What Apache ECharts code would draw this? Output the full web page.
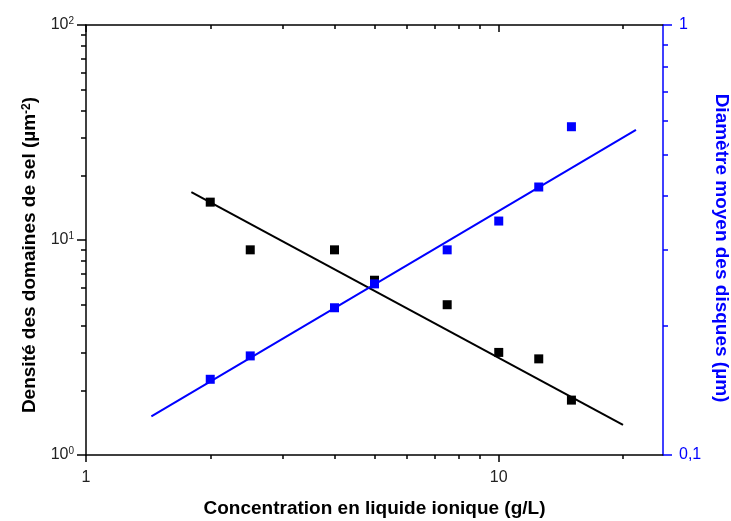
<!DOCTYPE html>
<html>
<head>
<meta charset="utf-8">
<script src="https://cdn.jsdelivr.net/npm/echarts@6/dist/echarts.min.js"></script>
<style>
  html, body { margin: 0; padding: 0; background: #fff; }
  #chart { width: 731px; height: 521px; }
</style>
</head>
<body>
<div id="chart"></div>
<script>
// concentration en liquide ionique (g/L)
const conc = [2, 2.5, 4, 5, 7.5, 10, 12.5, 15];
// densité des domaines de sel (µm^-2), axe gauche
const density = [15, 9, 9, 6.5, 5, 3, 2.8, 1.8];
// diamètre moyen des disques (µm), axe droit
const diameter = [0.15, 0.17, 0.22, 0.25, 0.30, 0.35, 0.42, 0.58];

// droites d'ajustement (extrémités)
const densityFitX = [1.8, 20];
const densityFitY = [16.7, 1.38];
const diameterFitX = [1.44, 21.5];
const diameterFitY = [0.123, 0.57];

const xMajor = [1, 10];
const xMinor = [2, 3, 4, 5, 6, 7, 8, 9, 20];
const yLeftMajor = [1, 10, 100];
const yLeftMinor = [2, 3, 4, 5, 6, 7, 8, 9, 20, 30, 40, 50, 60, 70, 80, 90];
const yRightMajor = [0.1, 1];
const yRightMinor = [0.2, 0.3, 0.4, 0.5, 0.6, 0.7, 0.8, 0.9];

const FONT = '"Liberation Sans", Arial, sans-serif';
const BLUE = '#0000ff';

const zip = (xs, ys) => xs.map((x, i) => [x, ys[i]]);

const chart = echarts.init(document.getElementById('chart'));

const baseX = { type: 'log', min: 1, max: 25, splitLine: { show: false } };
const lineBlack = { lineStyle: { color: '#000', width: 1.5 }, onZero: false };

chart.setOption({
  animation: false,
  backgroundColor: '#fff',
  grid: { left: 86, top: 25, right: 68, bottom: 66, containLabel: false, outerBoundsMode: 'none' },
  xAxis: [
    {
      ...baseX, position: 'bottom',
      name: 'Concentration en liquide ionique (g/L)',
      nameLocation: 'middle', nameGap: 44,
      nameTextStyle: { fontFamily: FONT, fontWeight: 'bold', fontSize: 19, color: '#000' },
      axisLine: lineBlack,
      axisTick: { customValues: xMajor, length: 7, lineStyle: { color: '#000', width: 1.5 } },
      axisLabel: { customValues: xMajor, fontFamily: FONT, fontSize: 16, color: '#222', margin: 15 }
    },
    {
      ...baseX, position: 'bottom',
      axisLine: { show: false, onZero: false },
      axisTick: { customValues: xMinor, length: 4, lineStyle: { color: '#000', width: 1.5 } },
      axisLabel: { show: false }
    },
    {
      ...baseX, position: 'top',
      axisLine: lineBlack,
      axisTick: { customValues: xMajor, inside: true, length: 7, lineStyle: { color: '#000', width: 1.5 } },
      axisLabel: { show: false }
    },
    {
      ...baseX, position: 'top',
      axisLine: { show: false, onZero: false },
      axisTick: { customValues: xMinor, inside: true, length: 4, lineStyle: { color: '#000', width: 1.5 } },
      axisLabel: { show: false }
    }
  ],
  yAxis: [
    {
      type: 'log', min: 1, max: 100, position: 'left', splitLine: { show: false },
      name: 'Densité des domaines de sel (µm{s|-2})',
      nameLocation: 'middle', nameGap: 43, nameRotate: 90,
      nameTextStyle: {
        fontFamily: FONT, fontWeight: 'bold', fontSize: 19, color: '#000',
        padding: [0, 30, 0, 0],
        rich: { s: { fontFamily: FONT, fontWeight: 'bold', fontSize: 12, color: '#000', verticalAlign: 'top', lineHeight: 12 } }
      },
      axisLine: lineBlack,
      axisTick: { customValues: yLeftMajor, length: 9, lineStyle: { color: '#000', width: 1.5 } },
      axisLabel: {
        customValues: yLeftMajor, margin: 12,
        formatter: v => '{b|10}{s|' + Math.round(Math.log10(v)) + '}',
        rich: {
          b: { fontFamily: FONT, fontSize: 16, color: '#222', lineHeight: 18 },
          s: { fontFamily: FONT, fontSize: 10, color: '#222', verticalAlign: 'top', lineHeight: 18 }
        }
      }
    },
    {
      type: 'log', min: 1, max: 100, position: 'left', splitLine: { show: false },
      axisLine: { show: false, onZero: false },
      axisTick: { customValues: yLeftMinor, length: 5, lineStyle: { color: '#000', width: 1.5 } },
      axisLabel: { show: false }
    },
    {
      type: 'log', min: 0.1, max: 1, position: 'right', splitLine: { show: false },
      name: 'Diamètre moyen des disques (µm)',
      nameLocation: 'middle', nameGap: 44, nameRotate: -90,
      nameTextStyle: { fontFamily: FONT, fontWeight: 'bold', fontSize: 19, color: BLUE, padding: [0, 0, 0, 16] },
      axisLine: { lineStyle: { color: BLUE, width: 1.5 }, onZero: false },
      axisTick: { customValues: yRightMajor, length: 9, lineStyle: { color: BLUE, width: 1.5 } },
      axisLabel: {
        customValues: yRightMajor, margin: 16,
        fontFamily: FONT, fontSize: 16, color: BLUE,
        formatter: v => String(v).replace('.', ',')
      }
    },
    {
      type: 'log', min: 0.1, max: 1, position: 'right', splitLine: { show: false },
      axisLine: { show: false, onZero: false },
      axisTick: { customValues: yRightMinor, length: 5, lineStyle: { color: BLUE, width: 1.5 } },
      axisLabel: { show: false }
    }
  ],
  series: [
    {
      type: 'line', xAxisIndex: 0, yAxisIndex: 0,
      data: zip(densityFitX, densityFitY),
      showSymbol: false, symbol: 'none',
      lineStyle: { color: '#000', width: 2 }, z: 2
    },
    {
      type: 'line', xAxisIndex: 0, yAxisIndex: 2,
      data: zip(diameterFitX, diameterFitY),
      showSymbol: false, symbol: 'none',
      lineStyle: { color: BLUE, width: 2 }, z: 2
    },
    {
      type: 'scatter', xAxisIndex: 0, yAxisIndex: 0,
      data: zip(conc, density),
      symbol: 'rect', symbolSize: 9,
      itemStyle: { color: '#000', opacity: 1 }, z: 3
    },
    {
      type: 'scatter', xAxisIndex: 0, yAxisIndex: 2,
      data: zip(conc, diameter),
      symbol: 'rect', symbolSize: 9,
      itemStyle: { color: BLUE, opacity: 1 }, z: 4
    }
  ]
});
</script>
</body>
</html>
